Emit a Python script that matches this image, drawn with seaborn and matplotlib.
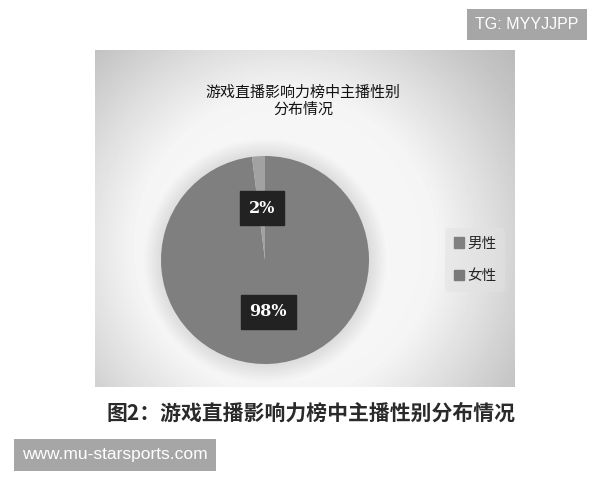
import numpy as np
import pandas as pd
import matplotlib
matplotlib.use("Agg")
import matplotlib.pyplot as plt
import seaborn as sns

# ---- data ----
categories = ["男性", "女性"]
shares = [98, 2]
title_text = "游戏直播影响力榜中主播性别\n分布情况"
caption_text = "图2：游戏直播影响力榜中主播性别分布情况"
wm_top = "TG: MYYJJPP"
wm_bottom = "www.mu-starsports.com"

df = pd.DataFrame({"gender": categories, "share": shares})

sns.set_theme(style="white")
plt.rcParams['font.family'] = ['Noto Sans CJK SC', 'DejaVu Sans']

W, H = 600, 480
fig = plt.figure(figsize=(6, 4.8), dpi=100)
fig.patch.set_facecolor("white")

def px_axes(x0, y0, w, h):
    return fig.add_axes([x0 / W, (H - y0 - h) / H, w / W, h / H])

# ---- panel background with radial glow ----
px0, py0, pw, ph = 95, 50, 420, 337
cx, cy, R = 265, 260, 104
bg = px_axes(px0, py0, pw, ph)
yy, xx = np.mgrid[py0:py0 + ph, px0:px0 + pw]
rg = np.hypot(xx - 285, yy - 245)
glow = np.interp(rg, [0, 150, 200, 260, 340], [0.97, 0.96, 0.88, 0.78, 0.68])
rp = np.hypot(xx - cx, yy - cy)
shadow = np.interp(rp, [0, 104, 108, 122, 400], [0.10, 0.10, 0.08, 0.0, 0.0])
val = glow - shadow
bg.imshow(val, cmap="gray", vmin=0, vmax=1, aspect="auto",
          extent=[0, 1, 0, 1], origin="upper", interpolation="bilinear")
bg.set_xlim(0, 1); bg.set_ylim(0, 1)
bg.axis("off")

# ---- pie ----
pax = px_axes(cx - R, cy - R, 2 * R, 2 * R)
pax.set_facecolor("none")
colors = ["#7f7f7f", "#a2a2a2"]
wedges, texts, autotexts = pax.pie(
    df["share"], colors=colors, startangle=90, counterclock=False,
    autopct=lambda p: f"{p:.0f}%", pctdistance=0.5,
    wedgeprops=dict(linewidth=0),
    textprops=dict(color="white", fontsize=11.5, family="DejaVu Serif",
                   fontweight="bold"))
for t in autotexts:
    t.set_bbox(dict(boxstyle="square,pad=0.55", facecolor="#222222",
                    edgecolor="#222222"))
pax.set_xlim(-1, 1); pax.set_ylim(-1, 1)
pax.set_aspect("equal")
pax.axis("off")

# ---- title ----
fig.text(303 / W, 1 - 101 / H, title_text, ha="center", va="center",
         fontsize=10.8, color="#111111", linespacing=1.2, fontweight="medium")

# ---- legend ----
leg_handles = [plt.Rectangle((0, 0), 1, 1, color="#808080"),
               plt.Rectangle((0, 0), 1, 1, color="#7a7a7a")]
leg = fig.legend(leg_handles, categories, loc="center left",
                 bbox_to_anchor=(438 / W, 1 - 260 / H), frameon=True,
                 fontsize=10.5, handlelength=0.7, handleheight=0.7,
                 handletextpad=0.2, labelspacing=1.3, borderpad=0.6,
                 facecolor="#e2e2e2", edgecolor="none", framealpha=0.5)

# ---- caption ----
fig.text(311 / W, 1 - 413 / H, caption_text, ha="center", va="center",
         fontsize=15, color="#2a2a2a", fontweight="bold")

# ---- watermarks ----
fig.text(527 / W, 1 - 24.5 / H, wm_top, ha="center", va="center",
         fontsize=11.5, color="white", family="Liberation Sans",
         bbox=dict(boxstyle="square,pad=0.5", facecolor="#a6a6a6",
                   edgecolor="none"))
fig.text(115 / W, 1 - 455 / H, wm_bottom, ha="center", va="center",
         fontsize=12.5, color="white", family="Liberation Sans",
         bbox=dict(boxstyle="square,pad=0.5", facecolor="#a6a6a6",
                   edgecolor="none"))

fig.savefig("out.png", dpi=100, facecolor="white")
